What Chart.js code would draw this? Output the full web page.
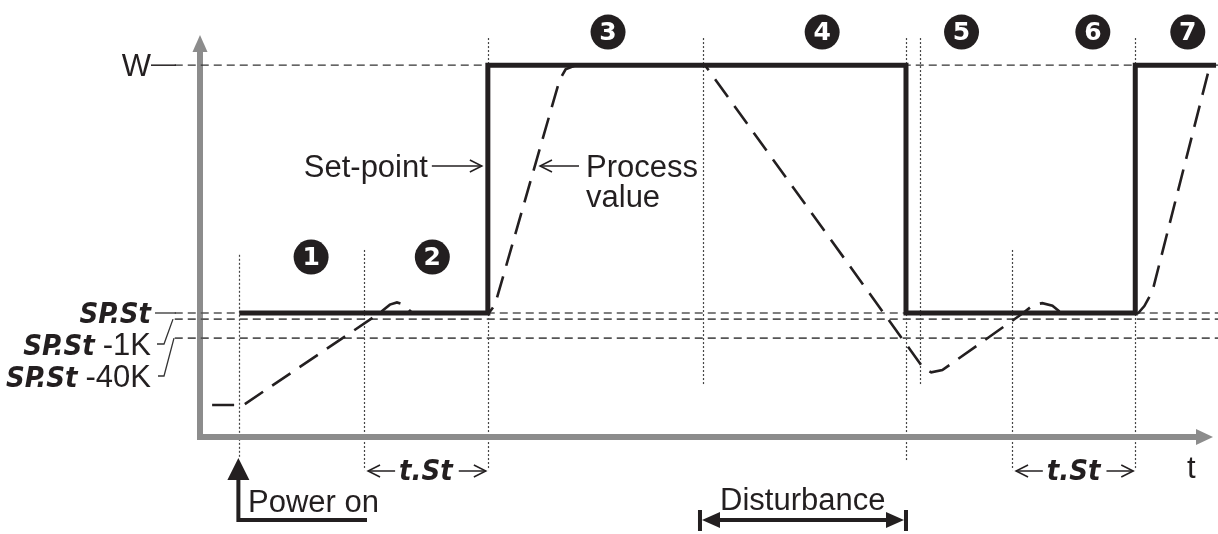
<!DOCTYPE html>
<html>
<head>
<meta charset="utf-8">
<title>Set-point start-up</title>
<script src="https://cdn.jsdelivr.net/npm/chart.js@4.4.0/dist/chart.umd.min.js"></script>
<style>
  html, body { margin: 0; padding: 0; background: #fff; }
  #wrap { width: 1218px; height: 534px; }
</style>
</head>
<body>
<div id="wrap"><canvas id="chart" width="1218" height="534"></canvas></div>
<script>
// Time runs 0..100 along x, value 0..110 along y (W = 100)

// reference levels
const levelNames = ['W', 'SP.St', 'SP.St -1K', 'SP.St -40K'];
const levelValues = [100, 33.35, 31.7, 26.6];
const levelFrom = -2.5;
const levelTo = 100.8;

// set-point (solid step line)
const setpointT = [3.9, 28.5, 28.5, 69.9, 69.9, 92.6, 92.6, 100.6];
const setpointV = [33.35, 33.35, 100, 100, 33.35, 33.35, 100, 100];

// process value (dashed)
const processT = [1.2, 4.3, 17.8, 18.8, 19.5, 20.2, 21.0, 28.6, 29.2, 35.6, 36.2, 37.2, 50.0, 71.6, 72.4, 73.5, 81.5, 82.5, 83.4, 84.4, 85.3, 92.9, 93.5, 94.3, 100.0];
const processV = [8.6, 8.6, 33.35, 35.6, 36.2, 35.6, 33.35, 33.35, 35.5, 96, 98.9, 100, 100, 18.6, 17.4, 18.0, 33.35, 35.5, 36.0, 35.3, 33.35, 33.35, 35.2, 39.2, 100];

// phase boundaries (dotted guides)
const guideT = [3.9, 16.24, 28.5, 49.8, 69.9, 71.3, 80.4, 92.6];

// phase markers
const phaseNumbers = ['1', '2', '3', '4', '5', '6', '7'];
const phaseLabelT = [11.0, 23.0, 40.4, 61.6, 75.4, 88.4, 97.8];
const phaseLabelV = [48.4, 48.4, 108.9, 108.9, 108.9, 108.9, 108.9];

const ink = '#231f20';
const axisGray = '#8c8c8c';
const textFont = '31px "Liberation Sans", Arial, sans-serif';
const segFont = 'italic bold 29px "DejaVu Sans Condensed", "DejaVu Sans", sans-serif';

function pts(ts, vs) {
    return ts.map((t, i) => ({ x: t, y: vs[i] }));
}

function chevron(ctx, x, y, dir) {
    ctx.beginPath();
    ctx.moveTo(x - dir * 12, y - 6);
    ctx.lineTo(x, y);
    ctx.lineTo(x - dir * 12, y + 6);
    ctx.stroke();
}

function thinArrow(ctx, xFrom, xTo, y) {
    ctx.beginPath();
    ctx.moveTo(xFrom, y);
    ctx.lineTo(xTo, y);
    ctx.stroke();
    chevron(ctx, xTo, y, xTo > xFrom ? 1 : -1);
}

function triangle(ctx, a, b, c) {
    ctx.beginPath();
    ctx.moveTo(a[0], a[1]);
    ctx.lineTo(b[0], b[1]);
    ctx.lineTo(c[0], c[1]);
    ctx.closePath();
    ctx.fill();
}

// guide extents in value units [top, bottom]
const guideSpan = [[49, -5.6], [50.3, -8.9], [107.3, -8.9], [107.3, 14], [107.3, -6.7], [107.3, 14], [50.3, -8.9], [107.3, -8.9]];

const backgroundPlugin = {
    id: 'background',
    beforeDatasetsDraw(chart) {
        const ctx = chart.ctx;
        const xs = chart.scales.x, ys = chart.scales.y;
        ctx.save();

        // dotted phase guides
        ctx.strokeStyle = '#444';
        ctx.lineWidth = 1.2;
        ctx.setLineDash([2, 2]);
        guideT.forEach((t, i) => {
            const x = Math.round(xs.getPixelForValue(t)) + 0.5;
            ctx.beginPath();
            ctx.moveTo(x, ys.getPixelForValue(guideSpan[i][0]));
            ctx.lineTo(x, ys.getPixelForValue(guideSpan[i][1]));
            ctx.stroke();
        });
        ctx.setLineDash([]);

        // axes
        const x0 = xs.getPixelForValue(0), y0 = ys.getPixelForValue(0);
        ctx.strokeStyle = axisGray;
        ctx.fillStyle = axisGray;
        ctx.lineWidth = 6;
        ctx.lineJoin = 'miter';
        ctx.beginPath();
        ctx.moveTo(x0, 50);
        ctx.lineTo(x0, y0);
        ctx.lineTo(1198, y0);
        ctx.stroke();
        triangle(ctx, [x0, 35], [x0 - 7.5, 52], [x0 + 7.5, 52]);
        triangle(ctx, [1213, y0], [1196, y0 - 8], [1196, y0 + 8]);
        ctx.restore();
    },
    afterDraw(chart) {
        const ctx = chart.ctx;
        const xs = chart.scales.x, ys = chart.scales.y;
        ctx.save();
        ctx.fillStyle = ink;
        ctx.strokeStyle = ink;
        ctx.textBaseline = 'alphabetic';

        // phase markers
        phaseNumbers.forEach((n, i) => {
            const cx = xs.getPixelForValue(phaseLabelT[i]);
            const cy = ys.getPixelForValue(phaseLabelV[i]);
            ctx.fillStyle = ink;
            ctx.beginPath();
            ctx.arc(cx, cy, 17.5, 0, Math.PI * 2);
            ctx.fill();
            ctx.fillStyle = '#fff';
            ctx.font = 'bold 25px "DejaVu Sans", sans-serif';
            ctx.textAlign = 'center';
            ctx.textBaseline = 'middle';
            ctx.fillText(n, cx, cy + 1);
        });
        ctx.fillStyle = ink;
        ctx.textBaseline = 'alphabetic';

        // level labels on the left
        const wy = ys.getPixelForValue(levelValues[0]);
        ctx.font = textFont;
        ctx.textAlign = 'right';
        ctx.fillText(levelNames[0], 151, wy + 11);
        ctx.lineWidth = 1.5;
        ctx.beginPath();
        ctx.moveTo(151, wy);
        ctx.lineTo(176, wy);
        ctx.stroke();

        const baselines = [323, 355, 387];
        for (let k = 1; k < 4; k++) {
            const parts = levelNames[k].split(' ');
            let right = 151;
            if (parts[1]) {
                ctx.font = textFont;
                ctx.textAlign = 'right';
                ctx.fillText(parts[1], right, baselines[k - 1]);
                right -= ctx.measureText(parts[1]).width + 8;
            }
            ctx.font = segFont;
            ctx.textAlign = 'right';
            ctx.fillText(parts[0], right, baselines[k - 1]);
        }

        // leaders
        ctx.strokeStyle = '#333';
        ctx.lineWidth = 1.3;
        const spy = ys.getPixelForValue(levelValues[1]);
        ctx.beginPath();
        ctx.moveTo(155, spy);
        ctx.lineTo(176, spy);
        ctx.stroke();
        const y1k = ys.getPixelForValue(levelValues[2]);
        ctx.beginPath();
        ctx.moveTo(157, 344);
        ctx.lineTo(164, 344);
        ctx.lineTo(173, y1k);
        ctx.stroke();
        const y40k = ys.getPixelForValue(levelValues[3]);
        ctx.beginPath();
        ctx.moveTo(158, 376);
        ctx.lineTo(164, 376);
        ctx.lineTo(174, y40k);
        ctx.stroke();

        // set-point / process value callouts
        ctx.strokeStyle = ink;
        ctx.lineWidth = 1.5;
        const riseX = xs.getPixelForValue(setpointT[1]);
        ctx.font = textFont;
        ctx.textAlign = 'right';
        ctx.fillText('Set-point', riseX - 60, 177);
        thinArrow(ctx, riseX - 56, riseX - 6, 166);
        ctx.textAlign = 'left';
        ctx.fillText('Process', 586, 177);
        ctx.fillText('value', 586, 207);
        thinArrow(ctx, 579, 540, 166);

        // time axis label
        ctx.fillText('t', 1187, 478);

        // t.St intervals
        [[1, 2], [6, 7]].forEach(([a, b]) => {
            const xa = xs.getPixelForValue(guideT[a]);
            const xb = xs.getPixelForValue(guideT[b]);
            const mid = (xa + xb) / 2;
            ctx.font = segFont;
            ctx.textAlign = 'center';
            const w = ctx.measureText('t.St').width;
            ctx.fillText('t.St', mid, 480);
            ctx.lineWidth = 1.5;
            thinArrow(ctx, mid - w / 2 - 4, xa + 4, 471);
            thinArrow(ctx, mid + w / 2 + 6, xb - 2, 471);
        });

        // power on
        const px = xs.getPixelForValue(guideT[0]) - 1;
        ctx.lineWidth = 4;
        ctx.lineCap = 'butt';
        ctx.beginPath();
        ctx.moveTo(px, 478);
        ctx.lineTo(px, 520);
        ctx.lineTo(367, 520);
        ctx.stroke();
        triangle(ctx, [px, 458], [px - 11, 480], [px + 11, 480]);
        ctx.font = textFont;
        ctx.textAlign = 'left';
        ctx.fillText('Power on', 248, 512);

        // disturbance
        const da = xs.getPixelForValue(guideT[3]) - 3;
        const db = xs.getPixelForValue(guideT[4]);
        ctx.fillText('Disturbance', 720, 510);
        ctx.lineWidth = 4;
        ctx.beginPath();
        ctx.moveTo(da + 10, 520);
        ctx.lineTo(db - 10, 520);
        ctx.stroke();
        triangle(ctx, [da + 2, 520], [da + 20, 512], [da + 20, 528]);
        triangle(ctx, [db - 2, 520], [db - 20, 512], [db - 20, 528]);
        ctx.fillRect(da - 2, 510, 4, 21);
        ctx.fillRect(db - 2, 510, 4, 21);

        ctx.restore();
    }
};

const levelDatasets = levelValues.map((v, i) => ({
    label: levelNames[i],
    data: [{ x: levelFrom, y: v }, { x: levelTo, y: v }],
    borderColor: i === 0 ? '#333' : '#555',
    borderWidth: i === 0 ? 1.3 : 1.6,
    borderDash: [8, 5],
    pointRadius: 0,
    clip: false
}));

new Chart(document.getElementById('chart'), {
    type: 'line',
    data: {
        datasets: [
            {
                label: 'Set-point',
                data: pts(setpointT, setpointV),
                borderColor: ink,
                borderWidth: 5,
                borderJoinStyle: 'miter',
                borderCapStyle: 'butt',
                pointRadius: 0,
                clip: false
            },
            {
                label: 'Process value',
                data: pts(processT, processV),
                borderColor: ink,
                borderWidth: 2.6,
                borderDash: [22, 11],
                pointRadius: 0,
                clip: false
            },
            ...levelDatasets
        ]
    },
    options: {
        responsive: false,
        animation: false,
        devicePixelRatio: 1,
        layout: { padding: { left: 200, right: 8, top: 28, bottom: 97 } },
        scales: {
            x: { type: 'linear', min: 0, max: 100, display: false },
            y: { type: 'linear', min: 0, max: 110, display: false }
        },
        plugins: {
            legend: { display: false },
            tooltip: { enabled: false }
        },
        elements: { line: { tension: 0 } }
    },
    plugins: [backgroundPlugin]
});
</script>
</body>
</html>
